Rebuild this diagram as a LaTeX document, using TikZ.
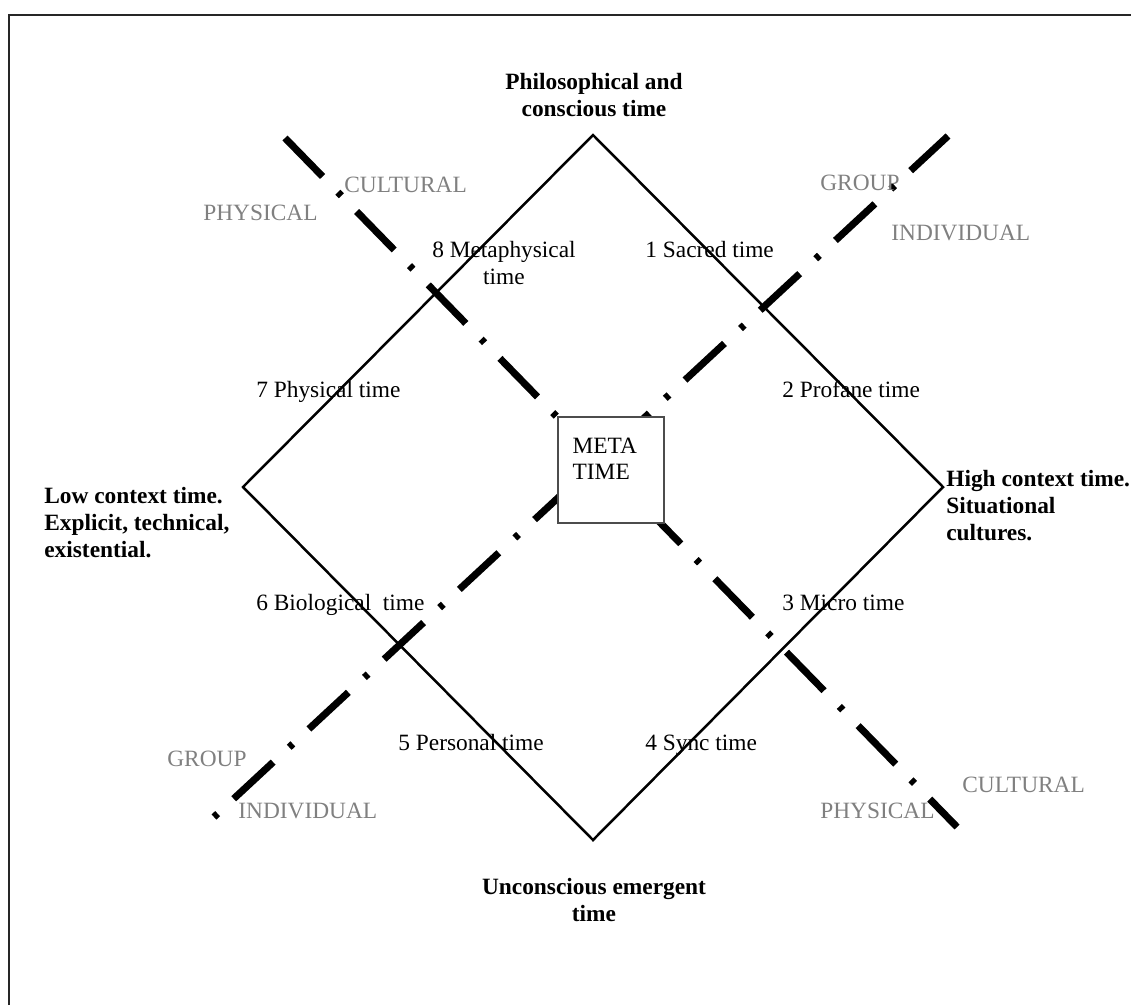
\documentclass[tikz,border=0pt]{standalone}
\usepackage{fontspec}
\setmainfont{Liberation Serif}
\begin{document}
\begin{tikzpicture}[x=0.02cm,y=-0.02cm,
  lbl/.style={inner sep=0pt,font=\fontsize{13.3}{15.3}\selectfont},
  axlbl/.style={lbl,anchor=base west,text=black!50},
  pole/.style={lbl,font=\fontsize{13.3}{15.3}\selectfont\bfseries},
  dashdot/.style={line width=4pt,dash pattern=on 30.6pt off 12.5pt on 2.8pt off 12.5pt},
  dotdash/.style={line width=4pt,dash pattern=on 2.8pt off 12.5pt on 30.6pt off 12.5pt},
  shade/.style={black!15,shift={(3,4)}}]
  \useasboundingbox (0,0) rectangle (1131,1005);
  \draw[line width=1.4pt,black!85] (9,1005) -- (9,15) -- (1131,15);
  % diamond corners and axis ends
  \coordinate (top) at (593,135);
  \coordinate (rgt) at (943,487);
  \coordinate (bot) at (593,840);
  \coordinate (lft) at (243,487);
  \coordinate (cultA) at (285,138);
  \coordinate (cultB) at (957,827);
  \coordinate (grpA) at (214,817);
  \coordinate (grpB) at (948,136);
  % shadows
  \draw[shade,line width=1.4pt] (top) -- (rgt) -- (bot) -- (lft) -- cycle;
  \draw[shade,dashdot] (cultA) -- (cultB);
  \draw[shade,dotdash] (grpA) -- (grpB);
  \draw[line width=1.4pt] (top) -- (rgt) -- (bot) -- (lft) -- cycle;
  \draw[dashdot] (cultA) -- (cultB);
  \draw[dotdash] (grpA) -- (grpB);
  \node[draw=black!70,line width=0.8pt,fill=white,minimum width=2.12cm,minimum height=2.12cm] (meta) at (611,470) {};
  \node[lbl,anchor=north west,align=left] (metatxt) at ([shift={(15,21)}]meta.north west) {META\\TIME};
  % poles
  \node[pole,anchor=north,align=center] (phil) at (594,73) {Philosophical and\\conscious time};
  \node[pole,anchor=north,align=center] (uncon) at (594,878) {Unconscious emergent\\time};
  \node[pole,anchor=north west,align=left] (low) at (44,487) {Low context time.\\Explicit, technical,\\existential.};
  \node[pole,anchor=north west,align=left] (high) at (946,470) {High context time.\\Situational\\cultures.};
  % eight times
  \node[lbl,anchor=north,align=center] (t8) at (504,241) {8 Metaphysical\\time};
  \node[lbl,anchor=base west] (t1) at (645,257) {1 Sacred time};
  \node[lbl,anchor=base west] (t7) at (256,397) {7 Physical time};
  \node[lbl,anchor=base west] (t2) at (782,397) {2 Profane time};
  \node[lbl,anchor=base west] (t6) at (256,610) {6 Biological\ \ time};
  \node[lbl,anchor=base west] (t3) at (782,610) {3 Micro time};
  \node[lbl,anchor=base west] (t5) at (398,750) {5 Personal time};
  \node[lbl,anchor=base west] (t4) at (645,750) {4 Sync time};
  % axis labels
  \node[axlbl] (cultTL) at (344,192) {CULTURAL};
  \node[axlbl] (physTL) at (203,220) {PHYSICAL};
  \node[axlbl] (grpTR) at (820,190) {GROUP};
  \node[axlbl] (indTR) at (891,240) {INDIVIDUAL};
  \node[axlbl] (grpBL) at (167,766) {GROUP};
  \node[axlbl] (indBL) at (238,818) {INDIVIDUAL};
  \node[axlbl] (cultBR) at (962,792) {CULTURAL};
  \node[axlbl] (physBR) at (820,818) {PHYSICAL};
\end{tikzpicture}
\end{document}
